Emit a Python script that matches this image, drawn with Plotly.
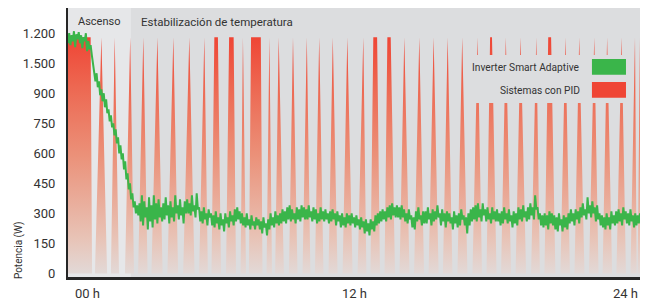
import plotly.graph_objects as go

# ---------------- data ----------------
y_tick_vals = [0, 150, 300, 450, 600, 750, 900, 1050, 1200]
y_tick_text = ["0", "150", "300", "450", "600", "750", "900", "1.500", "1.200"]
x_tick_vals = [0, 12, 24]
x_tick_text = ["00 h", "12 h", "24 h"]

phase_names = ["Ascenso", "Estabilización de temperatura"]
phase_start = [0.0, 2.64]
phase_end = [2.64, 24.0]

series_names = ["Inverter Smart Adaptive", "Sistemas con PID"]

# PID system: on/off cycling (hours, watts)
pid_hours = [
    0.00, 0.95, 1.01, 1.13, 1.40, 1.64, 1.80, 1.96, 2.14, 2.39, 2.61, 2.77, 2.94, 3.16,
    3.34, 3.50, 3.75, 3.97, 4.17, 4.42, 4.62, 4.83, 5.09, 5.31, 5.50, 5.72, 5.87, 6.02,
    6.14, 6.29, 6.42, 6.63, 6.76, 6.95, 7.05, 7.24, 7.34, 7.47, 7.59, 7.68, 8.09, 8.16,
    8.33, 8.45, 8.56, 8.69, 8.84, 9.06, 9.27, 9.44, 9.63, 9.84, 10.02, 10.17, 10.36, 10.54,
    10.72, 10.93, 11.11, 11.31, 11.52, 11.72, 11.94, 12.15, 12.39, 12.52, 12.69, 12.81,
    12.97, 13.09, 13.28, 13.40, 13.54, 13.72, 13.91, 14.11, 14.33, 14.52, 14.74, 14.94,
    15.13, 15.34, 15.55, 15.73, 15.93, 16.13, 16.34, 16.54, 16.76, 16.97, 17.19, 17.37,
    17.56, 17.71, 17.79, 17.98, 18.17, 18.37, 18.59, 18.78, 18.99, 19.22, 19.43, 19.65,
    19.80, 19.99, 20.15, 20.27, 20.45, 20.66, 20.87, 21.06, 21.25, 21.45, 21.67, 21.86,
    22.08, 22.26, 22.43, 22.62, 22.83, 23.01, 23.23, 23.41, 23.60, 23.79, 23.86, 23.90,
    24.00,
]
pid_watts = [
    1180, 1180, 0, 0, 1180, 0, 0, 1180, 0, 0, 1180, 0, 0, 1180,
    0, 0, 1180, 0, 0, 1180, 0, 0, 1180, 0, 0, 1180, 0, 0,
    1180, 1180, 0, 0, 1180, 1180, 0, 0, 1180, 0, 0, 1180, 1180, 0,
    0, 1180, 0, 0, 1180, 0, 0, 1180, 0, 0, 1180, 0, 0, 1180,
    0, 0, 1180, 0, 0, 1180, 0, 0, 1180, 0, 0, 1180,
    1180, 0, 0, 1180, 1180, 0, 0, 1180, 0, 0, 1180, 0,
    0, 1180, 0, 0, 1180, 0, 0, 1180, 0, 0, 1180, 0,
    0, 1180, 1180, 0, 0, 1180, 0, 0, 1180, 0, 0, 1180,
    0, 0, 1180, 1180, 0, 0, 1180, 0, 0, 1180, 0, 0,
    1180, 0, 0, 1180, 0, 0, 1180, 0, 0, 1180, 0, 0,
    1180,
]

# Inverter Smart Adaptive: power sampled every 3 minutes (0.05 h), one row per hour
green_step_h = 0.05
green_watts = [
    1150, 1200, 1140, 1190, 1160, 1210, 1130, 1195, 1170, 1205, 1150, 1190, 1125, 1180, 1160, 1200, 1110, 1160, 1120, 1140,
    1090, 1040, 1010, 960, 1000, 930, 960, 890, 920, 860, 900, 830, 870, 800, 820, 760, 790, 730, 750, 690,
    720, 650, 680, 600, 640, 570, 600, 520, 560, 470, 500, 420, 450, 370, 400, 330, 360, 300, 340, 290,
    350, 260, 390, 240, 360, 280, 330, 220, 380, 260, 340, 230, 390, 270, 350, 250, 370, 280, 330, 260,
    350, 270, 380, 290, 340, 250, 360, 280, 330, 260, 390, 300, 340, 270, 370, 290, 330, 250, 360, 300,
    370, 300, 350, 290, 390, 310, 340, 280, 400, 320, 330, 260, 310, 250, 330, 270, 300, 240, 320, 280,
    300, 240, 290, 230, 310, 250, 280, 220, 300, 240, 270, 210, 300, 250, 280, 230, 310, 260, 290, 240,
    320, 260, 330, 270, 310, 250, 300, 240, 280, 230, 300, 240, 270, 220, 290, 240, 260, 220, 280, 240,
    270, 220, 260, 200, 280, 230, 250, 190, 270, 220, 300, 240, 280, 230, 310, 250, 290, 240, 300, 250,
    320, 260, 310, 250, 330, 270, 340, 260, 320, 270, 300, 250, 330, 270, 320, 260, 340, 280, 330, 270,
    320, 270, 340, 280, 310, 260, 330, 270, 320, 250, 300, 260, 330, 270, 310, 260, 320, 270, 300, 250,
    310, 260, 320, 270, 300, 240, 310, 260, 290, 230, 300, 240, 280, 230, 300, 250, 290, 240, 300, 250,
    280, 230, 290, 240, 270, 220, 280, 230, 260, 200, 270, 210, 250, 190, 270, 220, 260, 210, 290, 240,
    300, 250, 310, 260, 320, 270, 310, 260, 330, 280, 340, 270, 350, 290, 330, 280, 340, 280, 330, 270,
    340, 280, 320, 260, 300, 250, 320, 270, 290, 230, 280, 220, 310, 260, 330, 270, 290, 240, 310, 250,
    310, 250, 330, 270, 300, 240, 320, 260, 310, 270, 340, 280, 300, 240, 320, 260, 300, 230, 310, 260,
    300, 250, 280, 220, 310, 250, 290, 230, 300, 240, 320, 270, 290, 240, 280, 200, 300, 240, 320, 260,
    330, 270, 340, 260, 350, 280, 320, 260, 350, 290, 320, 260, 330, 270, 300, 250, 330, 270, 310, 260,
    320, 260, 300, 240, 310, 250, 330, 270, 300, 250, 320, 260, 290, 230, 310, 250, 300, 240, 330, 270,
    320, 260, 340, 280, 310, 260, 330, 270, 350, 290, 330, 270, 390, 320, 330, 270, 300, 240, 290, 230,
    300, 240, 290, 220, 310, 250, 300, 240, 290, 220, 280, 210, 300, 240, 270, 210, 290, 230, 280, 220,
    300, 250, 320, 260, 300, 240, 320, 270, 310, 250, 330, 280, 350, 290, 320, 270, 380, 300, 340, 280,
    360, 300, 330, 260, 340, 270, 300, 240, 290, 230, 280, 220, 300, 240, 280, 220, 310, 250, 290, 240,
    310, 250, 320, 260, 300, 240, 330, 270, 310, 250, 300, 240, 320, 260, 290, 230, 300, 240, 290, 250,
    300,
]
green_hours = [round(i * green_step_h, 3) for i in range(len(green_watts))]

# ---------------- style ----------------
GREEN = "#3ab54a"
RED = "#ef4535"
BG = "#dcdddf"
BG_LIGHT = "#e6e7e9"
TXT = "#333333"
FONT = "Roboto"

fig = go.Figure()

fig.add_trace(go.Scatter(
    x=pid_hours, y=pid_watts, mode="lines", name=series_names[1],
    line=dict(width=0, color=RED), fill="tozeroy",
    fillgradient=dict(type="vertical", start=0, stop=1180,
                      colorscale=[[0, "#e2d9d7"], [0.15, "#e8c3b6"], [0.5, "#eb9179"],
                                  [0.8, "#ed6650"], [1, RED]]),
    showlegend=False, hoverinfo="skip",
))
fig.add_trace(go.Scatter(
    x=green_hours, y=green_watts, mode="lines", name=series_names[0],
    line=dict(width=2, color=GREEN), showlegend=False,
))

shapes = []
# Ascenso phase lighter background
shapes.append(dict(type="rect", xref="x", yref="paper", x0=phase_start[0], x1=phase_end[0],
                   y0=0, y1=1, fillcolor=BG_LIGHT, line=dict(width=0), layer="below"))
# legend panel
shapes.append(dict(type="rect", xref="paper", yref="paper", x0=0.71, x1=0.9825,
                   y0=0.647, y1=0.825, fillcolor=BG, line=dict(width=0), layer="above"))
shapes.append(dict(type="rect", xref="paper", yref="paper", x0=0.916, x1=0.9755,
                   y0=0.752, y1=0.8104, fillcolor=GREEN, line=dict(width=0), layer="above"))
shapes.append(dict(type="rect", xref="paper", yref="paper", x0=0.916, x1=0.9755,
                   y0=0.6665, y1=0.725, fillcolor=RED, line=dict(width=0), layer="above"))

annotations = []
annotations.append(dict(text=phase_names[0], xref="x", yref="paper", x=(phase_start[0] + phase_end[0]) / 2,
                        y=0.948, xanchor="center", yanchor="middle", showarrow=False,
                        font=dict(family=FONT, size=11, color=TXT)))
annotations.append(dict(text=phase_names[1], xref="x", yref="paper", x=phase_start[1], xshift=8,
                        y=0.948, xanchor="left", yanchor="middle", showarrow=False,
                        font=dict(family=FONT, size=11.5, color=TXT)))
annotations.append(dict(text=series_names[0], xref="paper", yref="paper", x=0.8986, y=0.778,
                        xanchor="right", yanchor="middle", showarrow=False,
                        font=dict(family=FONT, size=10.2, color=TXT)))
annotations.append(dict(text=series_names[1], xref="paper", yref="paper", x=0.8986, y=0.695,
                        xanchor="right", yanchor="middle", showarrow=False,
                        font=dict(family=FONT, size=10.2, color=TXT)))
annotations.append(dict(text="Potencia (W)", xref="paper", yref="paper", x=-0.0857, y=0.1,
                        xanchor="center", yanchor="middle", textangle=-90, showarrow=False,
                        font=dict(family=FONT, size=10, color=TXT)))
anchors = ["left", "center", "right"]
shifts = [5, 0, 0]
for v, t, a, s in zip(x_tick_vals, x_tick_text, anchors, shifts):
    annotations.append(dict(text=t, xref="x", yref="paper", x=v, xshift=s, y=-0.06,
                            xanchor=a, yanchor="middle", showarrow=False,
                            font=dict(family=FONT, size=13, color=TXT)))

# page body adds an 8px offset, so the figure is 8px smaller than the window
fig.update_layout(
    width=648, height=293,
    margin=dict(l=60, r=16, t=0, b=24),
    paper_bgcolor="white", plot_bgcolor=BG,
    shapes=shapes, annotations=annotations,
    xaxis=dict(range=[0, 24], showgrid=False, zeroline=False, showticklabels=False,
               showline=True, linecolor="#262626", linewidth=3, ticks=""),
    yaxis=dict(range=[-18, 1326], showgrid=False, zeroline=False,
               tickvals=y_tick_vals, ticktext=y_tick_text,
               tickfont=dict(family=FONT, size=13, color=TXT),
               ticks="outside", ticklen=8, tickcolor="rgba(0,0,0,0)",
               showline=True, linecolor="#262626", linewidth=2),
    showlegend=False,
)

fig.write_html("out.html")
